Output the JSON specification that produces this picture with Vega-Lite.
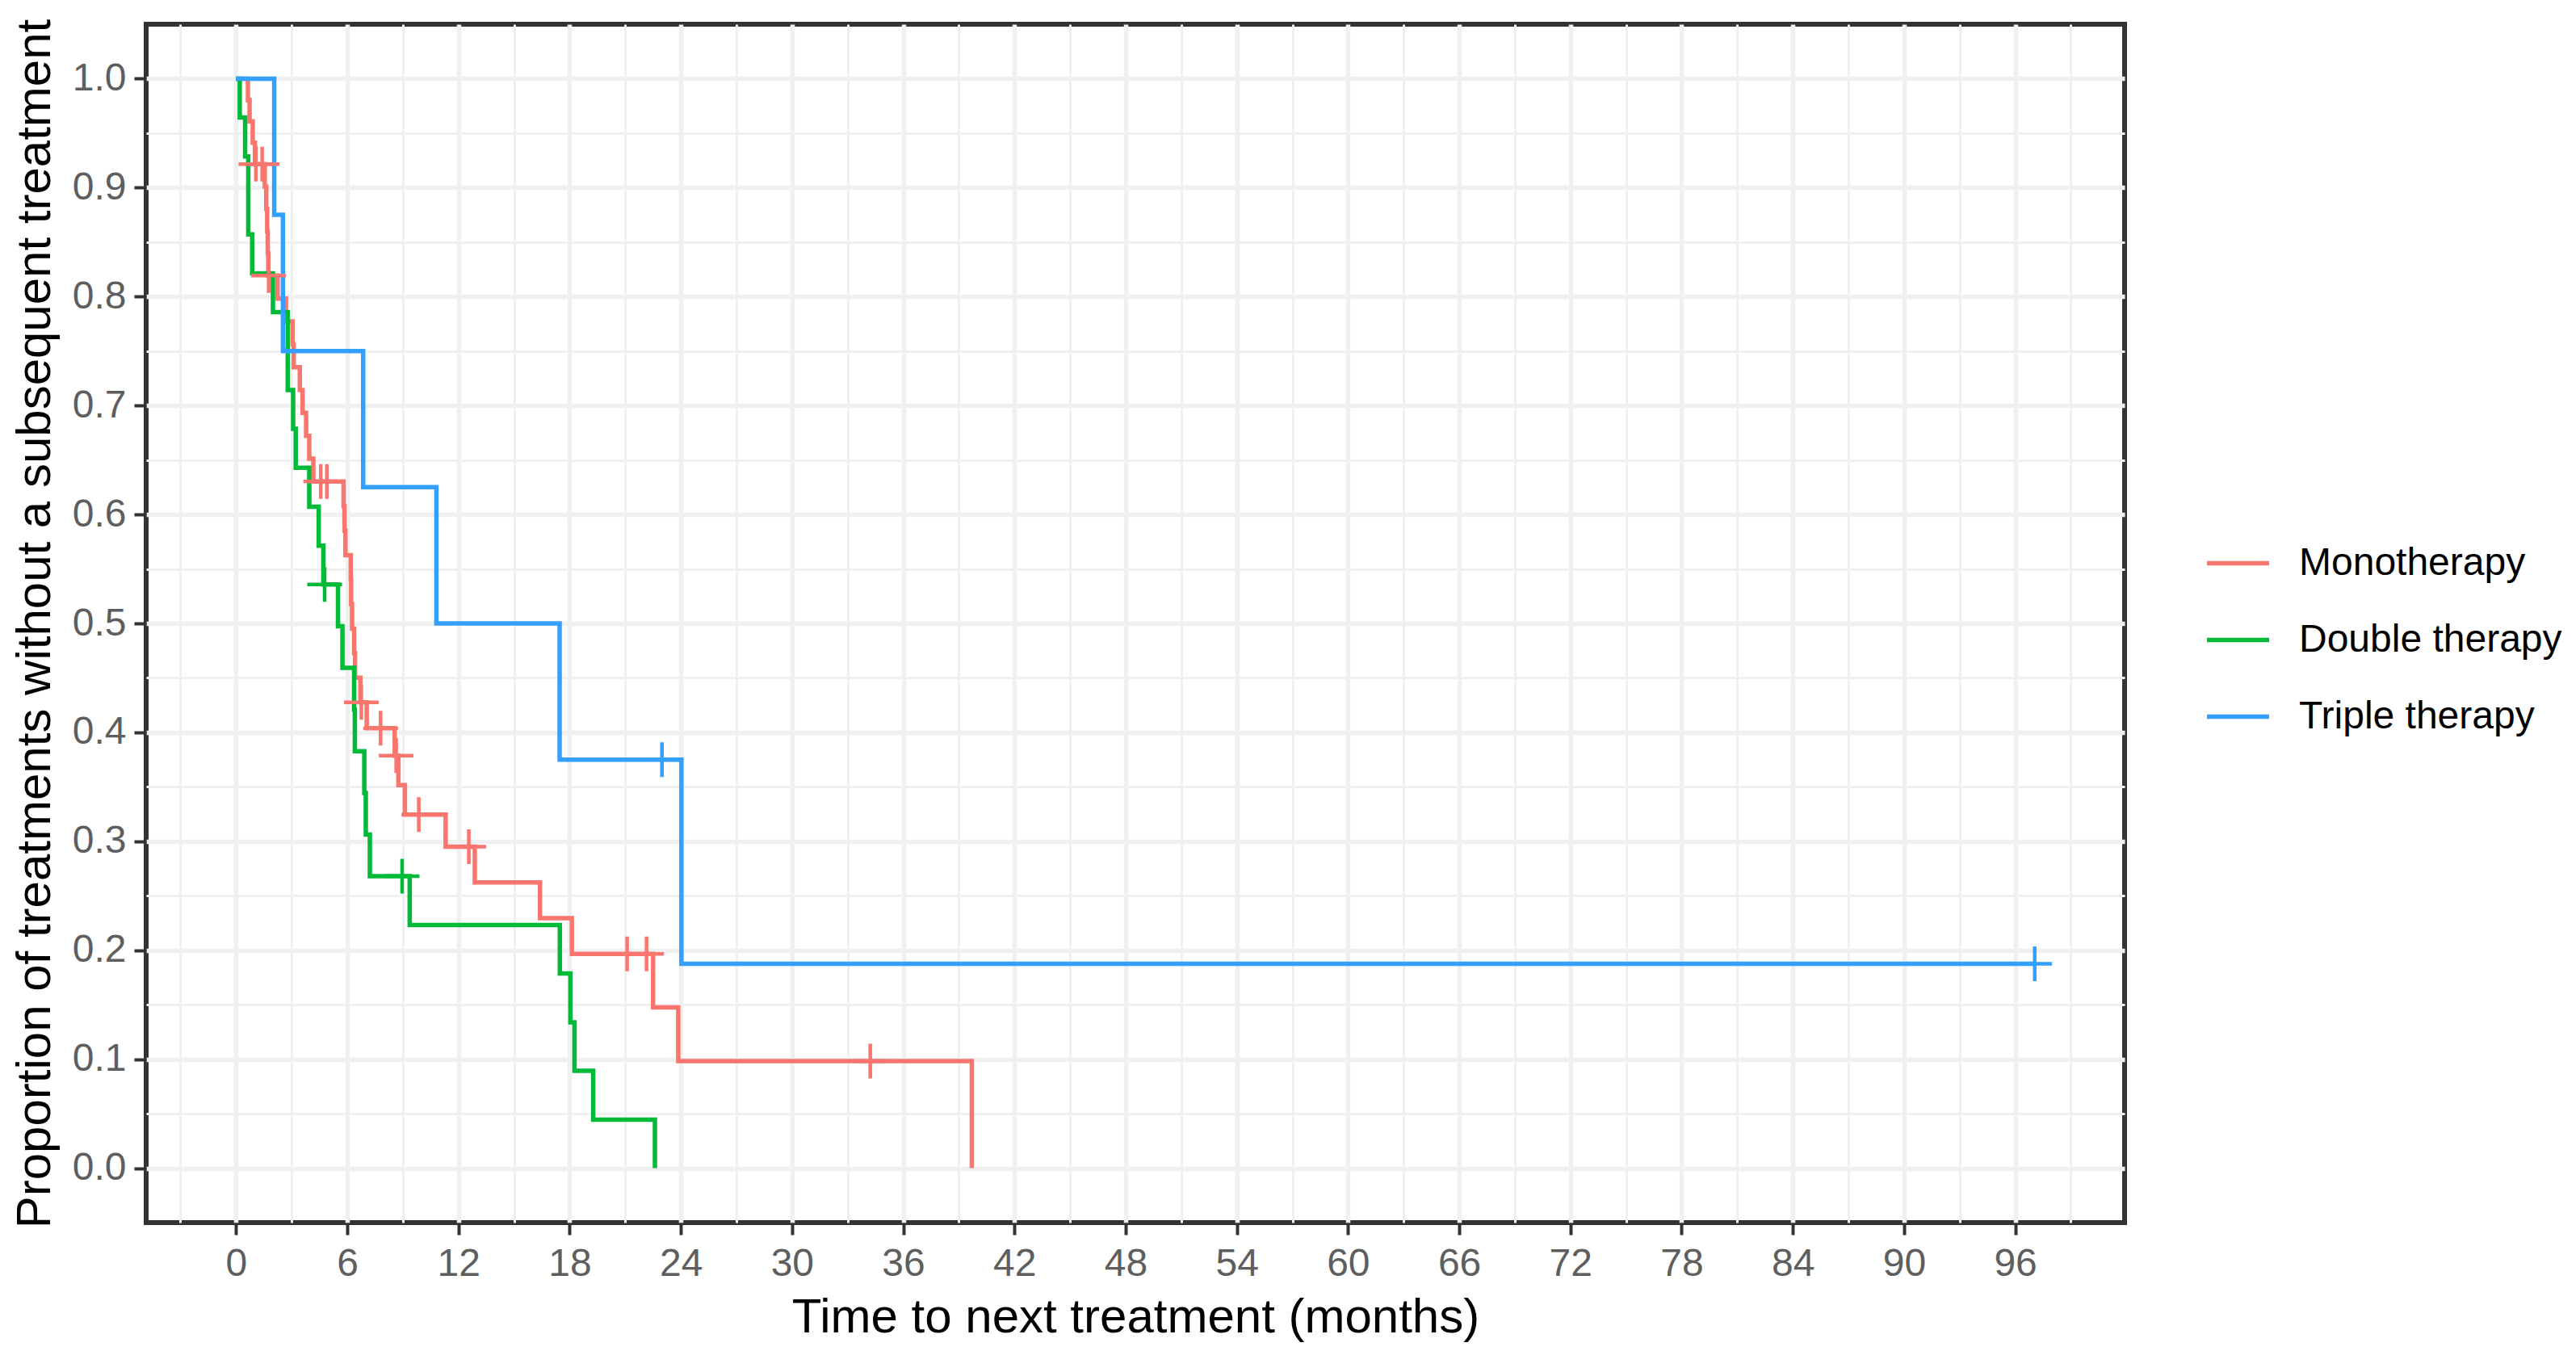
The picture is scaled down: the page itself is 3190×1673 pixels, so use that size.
{
  "$schema": "https://vega.github.io/schema/vega-lite/v6.json",
  "width": 2450,
  "height": 1484,
  "autosize": {"type": "none"},
  "padding": {"left": 181, "top": 30, "right": 559, "bottom": 159},
  "background": "white",
  "config": {"view": {"stroke": "#333333", "strokeWidth": 6}, "font": "Liberation Sans"},
  "data": {"values": [
    {"g": "Monotherapy", "t": 0, "s": 1, "c": 0},
    {"g": "Monotherapy", "t": 0.64, "s": 0.9804, "c": 0},
    {"g": "Monotherapy", "t": 0.73, "s": 0.9608, "c": 0},
    {"g": "Monotherapy", "t": 0.90, "s": 0.9412, "c": 0},
    {"g": "Monotherapy", "t": 1.02, "s": 0.9216, "c": 0},
    {"g": "Monotherapy", "t": 1.07, "s": 0.9216, "c": 1},
    {"g": "Monotherapy", "t": 1.41, "s": 0.9216, "c": 1},
    {"g": "Monotherapy", "t": 1.55, "s": 0.9011, "c": 0},
    {"g": "Monotherapy", "t": 1.63, "s": 0.8806, "c": 0},
    {"g": "Monotherapy", "t": 1.68, "s": 0.8601, "c": 0},
    {"g": "Monotherapy", "t": 1.71, "s": 0.8396, "c": 0},
    {"g": "Monotherapy", "t": 1.74, "s": 0.8192, "c": 0},
    {"g": "Monotherapy", "t": 1.76, "s": 0.8192, "c": 1},
    {"g": "Monotherapy", "t": 2.24, "s": 0.7982, "c": 0},
    {"g": "Monotherapy", "t": 2.69, "s": 0.7772, "c": 0},
    {"g": "Monotherapy", "t": 3.05, "s": 0.7562, "c": 0},
    {"g": "Monotherapy", "t": 3.11, "s": 0.7352, "c": 0},
    {"g": "Monotherapy", "t": 3.44, "s": 0.7142, "c": 0},
    {"g": "Monotherapy", "t": 3.59, "s": 0.6932, "c": 0},
    {"g": "Monotherapy", "t": 3.78, "s": 0.6722, "c": 0},
    {"g": "Monotherapy", "t": 3.95, "s": 0.6512, "c": 0},
    {"g": "Monotherapy", "t": 4.17, "s": 0.6302, "c": 0},
    {"g": "Monotherapy", "t": 4.57, "s": 0.6302, "c": 1},
    {"g": "Monotherapy", "t": 4.90, "s": 0.6302, "c": 1},
    {"g": "Monotherapy", "t": 5.80, "s": 0.6077, "c": 0},
    {"g": "Monotherapy", "t": 5.85, "s": 0.5852, "c": 0},
    {"g": "Monotherapy", "t": 5.90, "s": 0.5627, "c": 0},
    {"g": "Monotherapy", "t": 6.19, "s": 0.5402, "c": 0},
    {"g": "Monotherapy", "t": 6.21, "s": 0.5177, "c": 0},
    {"g": "Monotherapy", "t": 6.26, "s": 0.4952, "c": 0},
    {"g": "Monotherapy", "t": 6.37, "s": 0.4727, "c": 0},
    {"g": "Monotherapy", "t": 6.42, "s": 0.4501, "c": 0},
    {"g": "Monotherapy", "t": 6.71, "s": 0.4276, "c": 0},
    {"g": "Monotherapy", "t": 6.76, "s": 0.4276, "c": 1},
    {"g": "Monotherapy", "t": 7.05, "s": 0.4038, "c": 0},
    {"g": "Monotherapy", "t": 7.80, "s": 0.4038, "c": 1},
    {"g": "Monotherapy", "t": 8.56, "s": 0.3786, "c": 0},
    {"g": "Monotherapy", "t": 8.64, "s": 0.3786, "c": 1},
    {"g": "Monotherapy", "t": 8.76, "s": 0.3515, "c": 0},
    {"g": "Monotherapy", "t": 9.11, "s": 0.3245, "c": 0},
    {"g": "Monotherapy", "t": 9.86, "s": 0.3245, "c": 1},
    {"g": "Monotherapy", "t": 11.31, "s": 0.2950, "c": 0},
    {"g": "Monotherapy", "t": 12.56, "s": 0.2950, "c": 1},
    {"g": "Monotherapy", "t": 12.88, "s": 0.2622, "c": 0},
    {"g": "Monotherapy", "t": 16.40, "s": 0.2294, "c": 0},
    {"g": "Monotherapy", "t": 18.12, "s": 0.1966, "c": 0},
    {"g": "Monotherapy", "t": 21.10, "s": 0.1966, "c": 1},
    {"g": "Monotherapy", "t": 22.15, "s": 0.1966, "c": 1},
    {"g": "Monotherapy", "t": 22.50, "s": 0.1475, "c": 0},
    {"g": "Monotherapy", "t": 23.86, "s": 0.0983, "c": 0},
    {"g": "Monotherapy", "t": 34.22, "s": 0.0983, "c": 1},
    {"g": "Monotherapy", "t": 39.70, "s": 0, "c": 0},
    {"g": "Double therapy", "t": 0, "s": 1, "c": 0},
    {"g": "Double therapy", "t": 0.20, "s": 0.9643, "c": 0},
    {"g": "Double therapy", "t": 0.49, "s": 0.9286, "c": 0},
    {"g": "Double therapy", "t": 0.66, "s": 0.8571, "c": 0},
    {"g": "Double therapy", "t": 0.87, "s": 0.8214, "c": 0},
    {"g": "Double therapy", "t": 1.99, "s": 0.7857, "c": 0},
    {"g": "Double therapy", "t": 2.79, "s": 0.7143, "c": 0},
    {"g": "Double therapy", "t": 3.08, "s": 0.6786, "c": 0},
    {"g": "Double therapy", "t": 3.22, "s": 0.6429, "c": 0},
    {"g": "Double therapy", "t": 3.95, "s": 0.6071, "c": 0},
    {"g": "Double therapy", "t": 4.46, "s": 0.5714, "c": 0},
    {"g": "Double therapy", "t": 4.71, "s": 0.5357, "c": 0},
    {"g": "Double therapy", "t": 4.78, "s": 0.5357, "c": 1},
    {"g": "Double therapy", "t": 5.50, "s": 0.4974, "c": 0},
    {"g": "Double therapy", "t": 5.74, "s": 0.4592, "c": 0},
    {"g": "Double therapy", "t": 6.37, "s": 0.4209, "c": 0},
    {"g": "Double therapy", "t": 6.41, "s": 0.3827, "c": 0},
    {"g": "Double therapy", "t": 6.92, "s": 0.3444, "c": 0},
    {"g": "Double therapy", "t": 7.00, "s": 0.3061, "c": 0},
    {"g": "Double therapy", "t": 7.22, "s": 0.2679, "c": 0},
    {"g": "Double therapy", "t": 8.96, "s": 0.2679, "c": 1},
    {"g": "Double therapy", "t": 9.37, "s": 0.2232, "c": 0},
    {"g": "Double therapy", "t": 17.47, "s": 0.1786, "c": 0},
    {"g": "Double therapy", "t": 18.04, "s": 0.1339, "c": 0},
    {"g": "Double therapy", "t": 18.26, "s": 0.0893, "c": 0},
    {"g": "Double therapy", "t": 19.27, "s": 0.0446, "c": 0},
    {"g": "Double therapy", "t": 22.60, "s": 0, "c": 0},
    {"g": "Triple therapy", "t": 0, "s": 1, "c": 0},
    {"g": "Triple therapy", "t": 2.06, "s": 0.875, "c": 0},
    {"g": "Triple therapy", "t": 2.53, "s": 0.75, "c": 0},
    {"g": "Triple therapy", "t": 6.86, "s": 0.625, "c": 0},
    {"g": "Triple therapy", "t": 10.81, "s": 0.5, "c": 0},
    {"g": "Triple therapy", "t": 17.46, "s": 0.375, "c": 0},
    {"g": "Triple therapy", "t": 22.98, "s": 0.375, "c": 1},
    {"g": "Triple therapy", "t": 24.03, "s": 0.1875, "c": 0},
    {"g": "Triple therapy", "t": 97.05, "s": 0.1875, "c": 1}
  ]},
  "layer": [
    {
      "mark": {"type": "line", "interpolate": "step-after", "strokeWidth": 5.5},
      "encoding": {
        "x": {
          "field": "t", "type": "quantitative",
          "scale": {"domain": [-4.85, 101.9], "nice": false, "zero": false},
          "axis": {
            "values": [-3, 0, 3, 6, 9, 12, 15, 18, 21, 24, 27, 30, 33, 36, 39, 42, 45, 48, 51, 54, 57, 60, 63, 66, 69, 72, 75, 78, 81, 84, 87, 90, 93, 96, 99],
            "title": "Time to next treatment (months)",
            "titleFontSize": 60, "titleColor": "black", "titleFontWeight": "normal", "titlePadding": 13,
            "labelFontSize": 48, "labelColor": "#5E5E5E", "labelPadding": 12,
            "labelExpr": "datum.value % 6 === 0 ? datum.label : ''",
            "format": "d", "labelOverlap": false, "labelFlush": false,
            "tickSize": 15, "tickWidth": 4,
            "tickColor": {"condition": {"test": "datum.value % 6 === 0", "value": "#333333"}, "value": "rgba(0,0,0,0)"},
            "grid": true, "gridColor": "#F0F0F0",
            "gridWidth": {"condition": {"test": "datum.value % 6 === 0", "value": 5.5}, "value": 3},
            "domain": false
          }
        },
        "y": {
          "field": "s", "type": "quantitative",
          "scale": {"domain": [-0.05, 1.05], "nice": false, "zero": false},
          "axis": {
            "values": [0, 0.05, 0.1, 0.15, 0.2, 0.25, 0.3, 0.35, 0.4, 0.45, 0.5, 0.55, 0.6, 0.65, 0.7, 0.75, 0.8, 0.85, 0.9, 0.95, 1.0],
            "title": "Proportion of treatments without a subsequent treatment",
            "titleFontSize": 60, "titleColor": "black", "titleFontWeight": "normal", "titlePadding": 15,
            "labelFontSize": 48, "labelColor": "#5E5E5E", "labelPadding": 10,
            "labelExpr": "round(datum.value * 100) % 10 === 0 ? datum.label : ''",
            "format": ".1f", "labelOverlap": false, "labelFlush": false,
            "tickSize": 15, "tickWidth": 4,
            "tickColor": {"condition": {"test": "round(datum.value * 100) % 10 === 0", "value": "#333333"}, "value": "rgba(0,0,0,0)"},
            "grid": true, "gridColor": "#F0F0F0",
            "gridWidth": {"condition": {"test": "round(datum.value * 100) % 10 === 0", "value": 5.5}, "value": 3},
            "domain": false
          }
        },
        "color": {
          "field": "g", "type": "nominal",
          "scale": {"domain": ["Monotherapy", "Double therapy", "Triple therapy"], "range": ["#F8766D", "#00BA38", "#33A0FF"]},
          "legend": {
            "title": null, "orient": "none", "legendX": 2549, "legendY": 626,
            "labelFontSize": 48, "labelColor": "black", "labelOffset": 34, "labelLimit": 0,
            "symbolType": "stroke", "symbolSize": 5929, "symbolStrokeWidth": 5.5,
            "rowPadding": 29, "padding": 0
          }
        }
      }
    },
    {
      "transform": [{"filter": "datum.c == 1"}],
      "mark": {"type": "point", "shape": "M-1,0L1,0M0,-1L0,1", "filled": false, "size": 1849, "strokeWidth": 4.5, "opacity": 1},
      "encoding": {
        "x": {"field": "t", "type": "quantitative"},
        "y": {"field": "s", "type": "quantitative"},
        "stroke": {
          "field": "g", "type": "nominal",
          "scale": {"domain": ["Monotherapy", "Double therapy", "Triple therapy"], "range": ["#F8766D", "#00BA38", "#33A0FF"]},
          "legend": null
        }
      }
    }
  ]
}
